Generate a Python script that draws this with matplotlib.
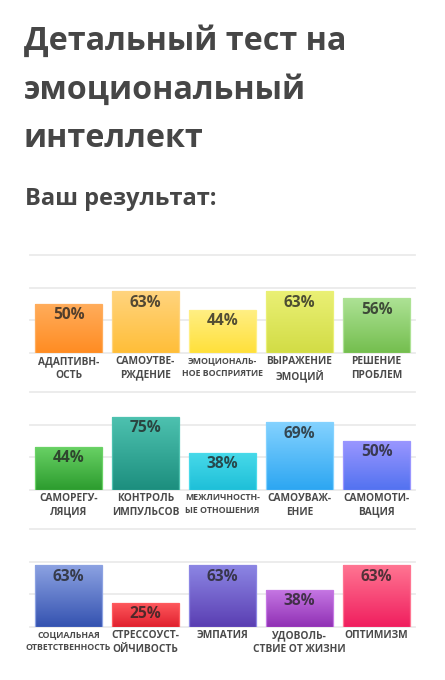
import matplotlib
matplotlib.use("Agg")
import matplotlib.pyplot as plt
import numpy as np
from matplotlib.colors import to_rgb, LinearSegmentedColormap

plt.rcParams['font.family'] = ['Open Sans', 'DejaVu Sans']

# ---- data ----
title_lines = ["Детальный тест на", "эмоциональный", "интеллект"]
subtitle = "Ваш результат:"

labels1 = ["АДАПТИВН-\nОСТЬ", "САМОУТВЕ-\nРЖДЕНИЕ", "ЭМОЦИОНАЛЬ-\nНОЕ ВОСПРИЯТИЕ", "ВЫРАЖЕНИЕ\nЭМОЦИЙ", "РЕШЕНИЕ\nПРОБЛЕМ"]
values1 = [50, 63, 44, 63, 56]
labels2 = ["САМОРЕГУ-\nЛЯЦИЯ", "КОНТРОЛЬ\nИМПУЛЬСОВ", "МЕЖЛИЧНОСТН-\nЫЕ ОТНОШЕНИЯ", "САМОУВАЖ-\nЕНИЕ", "САМОМОТИ-\nВАЦИЯ"]
values2 = [44, 75, 38, 69, 50]
labels3 = ["СОЦИАЛЬНАЯ\nОТВЕТСТВЕННОСТЬ", "СТРЕССОУСТ-\nОЙЧИВОСТЬ", "ЭМПАТИЯ", "УДОВОЛЬ-\nСТВИЕ ОТ ЖИЗНИ", "ОПТИМИЗМ"]
values3 = [63, 25, 63, 38, 63]

# gradient colours (top, bottom)
colors1 = [("#FFAD5C", "#FF8C22"), ("#FFD47E", "#FFBE38"), ("#FFEF85", "#FFE03A"),
           ("#EAF075", "#D2DC45"), ("#ADE295", "#74BE4E")]
colors2 = [("#6AD266", "#2C9C2E"), ("#4EC2B0", "#1C8E7E"), ("#48DAEA", "#1EBFD8"),
           ("#84D2FF", "#2CA6F2"), ("#9A96FF", "#5272F0")]
colors3 = [("#8CA2E2", "#3452B0"), ("#FF5A5E", "#E0202E"), ("#8C86E4", "#5A3EB2"),
           ("#C678E4", "#9030B4"), ("#FF7592", "#F01E5E")]

small_labels = {"ЭМОЦИОНАЛЬ-\nНОЕ ВОСПРИЯТИЕ", "МЕЖЛИЧНОСТН-\nЫЕ ОТНОШЕНИЯ", "СОЦИАЛЬНАЯ\nОТВЕТСТВЕННОСТЬ"}

W, H = 445, 680
fig = plt.figure(figsize=(W / 100, H / 100), dpi=100)
fig.patch.set_facecolor("white")

text_color = "#464646"

# title
for i, line in enumerate(title_lines):
    fig.text(24 / W, 1 - (50 + 48.5 * i) / H, line, fontsize=23.2, fontweight="bold",
             color=text_color, ha="left", va="baseline")
fig.text(25 / W, 1 - 205 / H, subtitle, fontsize=17, fontweight="bold",
         color=text_color, ha="left", va="baseline")

panels = [(labels1, values1, colors1, 353), (labels2, values2, colors2, 490),
          (labels3, values3, colors3, 627)]

for labels, values, colors, base_px in panels:
    ax = fig.add_axes([30 / W, 1 - base_px / H, 385 / W, 98 / H])
    ax.set_facecolor("white")
    for s in ax.spines.values():
        s.set_visible(False)
    ax.set_xticks([])
    ax.set_yticks([])
    for g in [0, 100 / 3, 200 / 3, 100]:
        ax.axhline(g, color="#EBEBEB", lw=1.3, zorder=0, clip_on=False)
    x = np.arange(len(values))
    bars = ax.bar(x, values, width=0.87, color="none", zorder=2)
    for b, (top, bot) in zip(bars, colors):
        cmap = LinearSegmentedColormap.from_list("g", [to_rgb(bot), to_rgb(top)])
        grad = np.linspace(0, 1, 256).reshape(-1, 1)
        x0, w, h = b.get_x(), b.get_width(), b.get_height()
        im = ax.imshow(grad, cmap=cmap, extent=(x0, x0 + w, 0, h), origin="lower",
                       aspect="auto", zorder=1.5, interpolation="bilinear")
        im.set_clip_path(b)
        b.set_edgecolor(top)
        b.set_linewidth(0.9)
    ax.set_xlim(-0.5, len(values) - 0.5)
    ax.set_ylim(0, 100)
    for xi, v in zip(x, values):
        ax.annotate(f"{v}%", xy=(xi, v), xytext=(0, -8.2), textcoords="offset points",
                    ha="center", va="center", fontsize=11.2, fontweight="bold",
                    color="#222222", alpha=0.78, zorder=3)
    for xi, lab in zip(x, labels):
        fs = 6.3 if lab in small_labels else 7.3
        ax.annotate(lab, xy=(xi, 0), xytext=(0, -2.3), textcoords="offset points",
                    ha="center", va="top", multialignment="center", fontsize=fs,
                    fontweight="bold", color="#4A4A4A",
                    linespacing=1.32 if fs > 7 else 1.52,
                    annotation_clip=False)

fig.savefig("out.png", dpi=100, facecolor="white")
